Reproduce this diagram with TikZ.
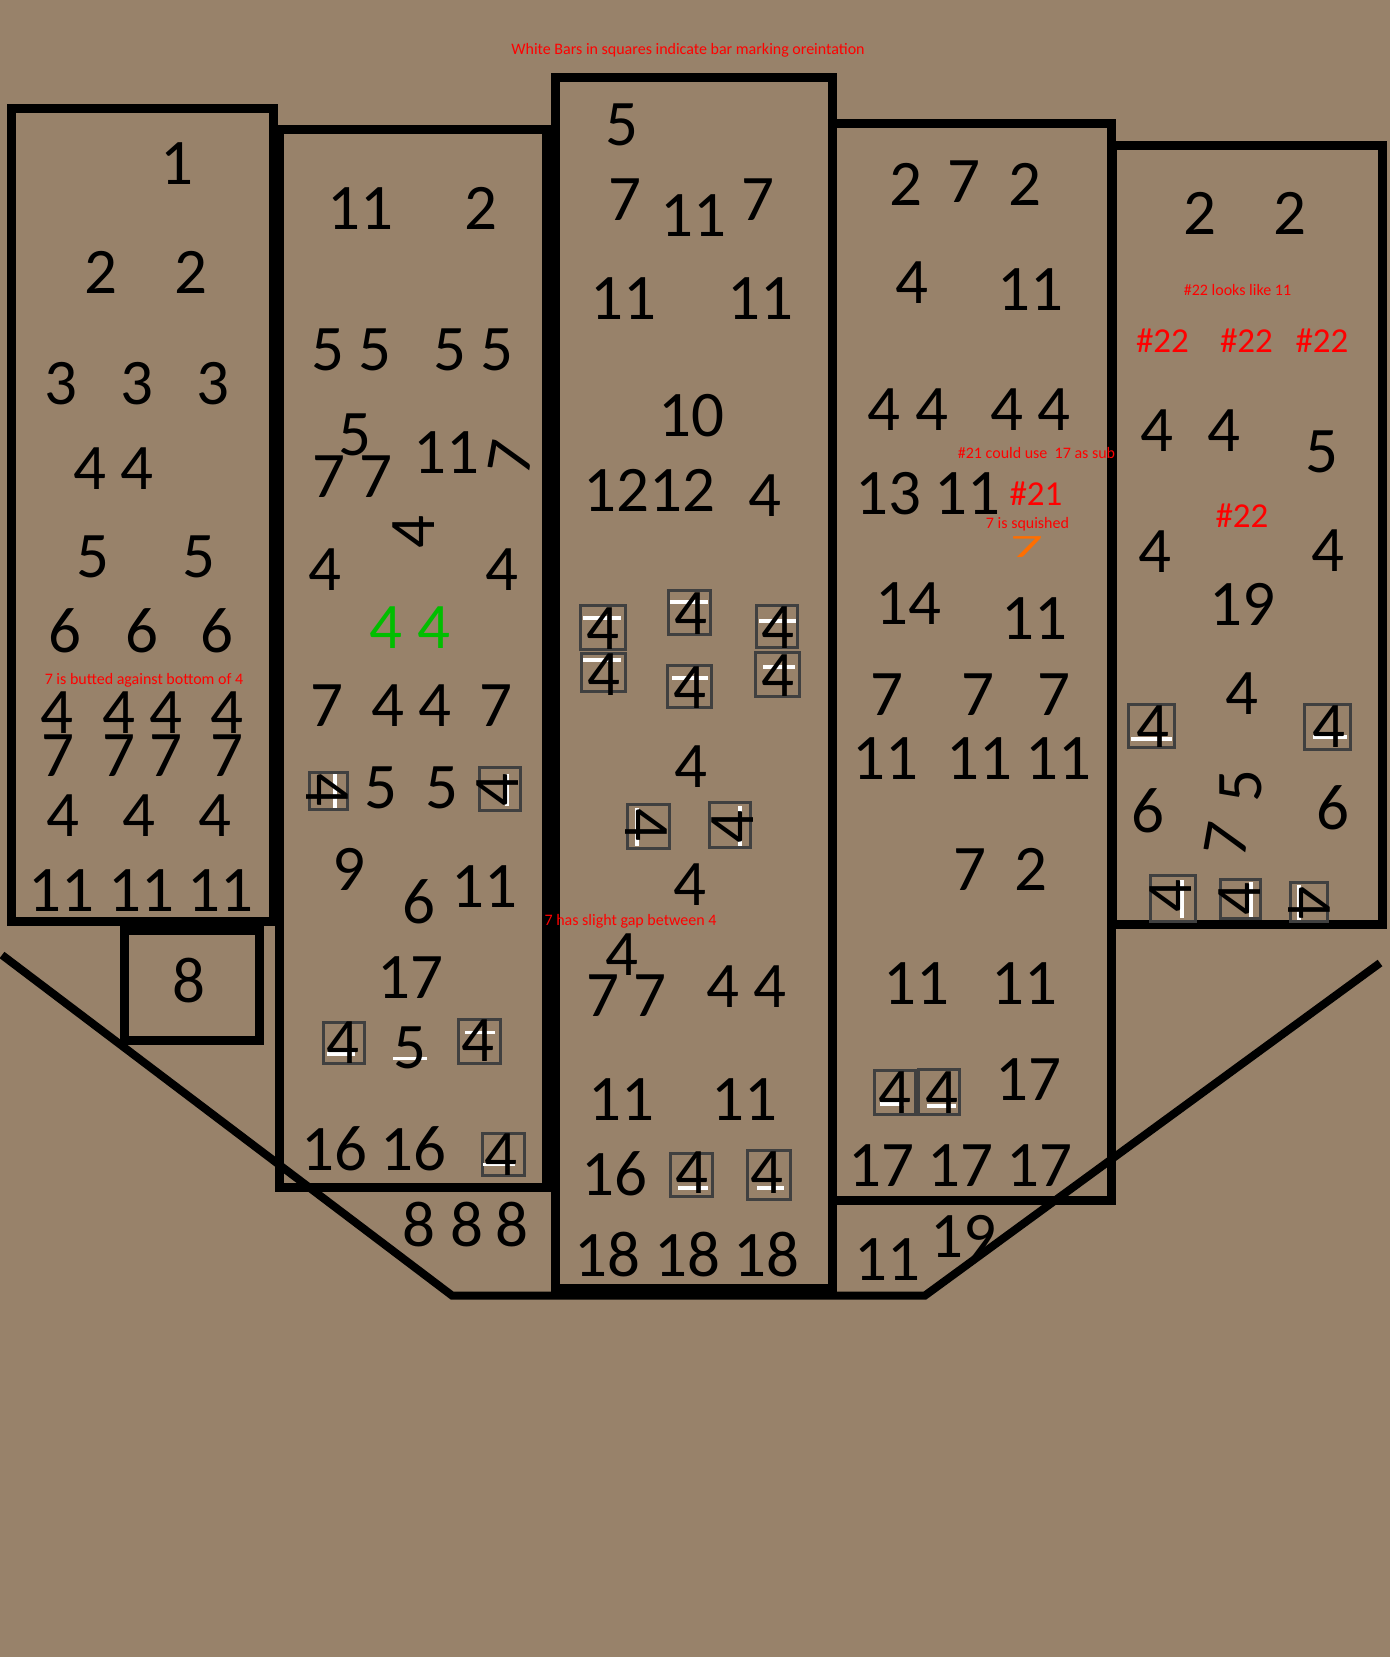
\documentclass[tikz,border=0pt]{standalone}
\usepackage{fontspec}
\setmainfont{Carlito}
\usepackage{graphicx}
\definecolor{bgc}{RGB}{152,130,106}
\definecolor{boxgray}{RGB}{64,64,64}
\definecolor{grn}{RGB}{0,190,0}
\definecolor{orng}{RGB}{255,110,0}
\begin{document}
\begin{tikzpicture}[x=1pt,y=-1pt,
 num/.style={font=\fontsize{65}{70}\selectfont, inner sep=0pt, anchor=base},
 rnum/.style={font=\fontsize{65}{70}\selectfont, inner sep=0pt, anchor=center},
 note/.style={font=\fontsize{16}{19}\selectfont, text=red, inner sep=0pt, anchor=base},
 bignote/.style={font=\fontsize{35}{40}\selectfont, text=red, inner sep=0pt, anchor=base},
 frame/.style={draw=black, line width=9pt},
 edgeline/.style={draw=black, line width=8pt},
 bx/.style={draw=boxgray, line width=3.3pt, inner sep=0pt},
 wbar/.style={draw=white, line width=3.3pt},
]
\fill[bgc] (0,0) rectangle (1390,1657);
\useasboundingbox (0,0) rectangle (1390,1657);

% frames
\draw[frame] (11.5,108.5) rectangle (273.5,921);
\draw[frame] (124.5,930) rectangle (259.5,1040);
\draw[frame] (279.5,129.5) rectangle (546,1187);
\draw[frame] (555.5,77.7) rectangle (832.3,1288);
\draw[frame] (832.3,123) rectangle (1111,1200);
\draw[frame] (1112,145.5) rectangle (1382.5,924);
\draw[frame] (832.3,1200) -- (832.3,1296);
\draw[edgeline] (2,955) -- (452,1295.5) -- (925,1295.5) -- (1380,963);

% top note
\node[note] (note0) at (688,54) {White Bars in squares indicate bar marking oreintation};

% column 1
\node[num] (c1a) at (176.5,184) {1};
\node[num] (c1b) at (100.5,293) {2};
\node[num] (c1c) at (191,293) {2};
\node[num] (c1d) at (61,404) {3};
\node[num] (c1e) at (137,404) {3};
\node[num] (c1f) at (212.5,404) {3};
\node[num] (c1g) at (90,489) {4};
\node[num] (c1h) at (137,489) {4};
\node[num] (c1i) at (93,577) {5};
\node[num] (c1j) at (198.5,577) {5};
\node[num] (c1k) at (65,652.7) {6};
\node[num] (c1l) at (141.5,652.7) {6};
\node[num] (c1m) at (217,652.7) {6};
\node[note] (note1) at (144,684) {7 is butted against bottom of 4};
\node[num] (c1n) at (57,733) {4};
\node[num] (c1o) at (118.5,733) {4};
\node[num] (c1p) at (165.5,733) {4};
\node[num] (c1q) at (226.5,733) {4};
\node[num] (c1r) at (58,776.7) {7};
\node[num] (c1s) at (119,776.7) {7};
\node[num] (c1t) at (166,776.7) {7};
\node[num] (c1u) at (226.5,776.7) {7};
\node[num] (c1v) at (63,836.7) {4};
\node[num] (c1w) at (139,836.7) {4};
\node[num] (c1x) at (214.5,836.7) {4};
\node[num] (c1y) at (61.7,911) {11};
\node[num] (c1z) at (141.7,911) {11};
\node[num] (c1aa) at (220.7,911) {11};
\node[num] (c1ab) at (189,1002.7) {8};

% column 2
\node[num] (c2a) at (360.5,229) {11};
\node[num] (c2b) at (481,229) {2};
\node[num] (c2c) at (327.5,370) {5};
\node[num] (c2d) at (375,370) {5};
\node[num] (c2e) at (450,370) {5};
\node[num] (c2f) at (497,370) {5};
\node[num] (c2g) at (355,455) {5};
\node[num] (c2h) at (329,497.7) {7};
\node[num] (c2i) at (376,497.7) {7};
\node[num] (c2j) at (446.5,473) {11};
\node[rnum, rotate=80] (c2k) at (511,458) {7};
\node[rnum, rotate=90] (c2l) at (414,532) {4};
\node[num] (c2m) at (325,590.7) {4};
\node[num] (c2n) at (501.5,590) {4};
\node[num, text=grn] (c2o) at (386,648.6) {4};
\node[num, text=grn] (c2p) at (433.5,648.6) {4};
\node[num] (c2q) at (327,726) {7};
\node[num] (c2r) at (388,726) {4};
\node[num] (c2s) at (435,726) {4};
\node[num] (c2t) at (496,726) {7};
\node[bx, minimum width=37.7pt, minimum height=36.7pt] (b2a) at (328.5,791) {};
\draw[wbar] (335,774) -- (335,808);
\node[rnum, rotate=-90] (b2ad) at (327,789.5) {4};
\node[num] (c2u) at (381,808) {5};
\node[num] (c2v) at (442,808) {5};
\node[bx, minimum width=40.7pt, minimum height=42.7pt] (b2b) at (500,789) {};
\draw[wbar] (507,774) -- (507,806);
\node[rnum, rotate=90] (b2bd) at (498,790) {4};
\node[num] (c2w) at (349,890) {9};
\node[num] (c2x) at (418.5,923) {6};
\node[num] (c2y) at (484,907.5) {11};
\node[num] (c2z) at (410.5,998.6) {17};
\node[bx, minimum width=40.7pt, minimum height=41.4pt] (b2c) at (344,1043) {};
\draw[wbar] (327,1054) -- (355,1054);
\node[num] (b2cd) at (342.5,1063) {4};
\draw[wbar] (393,1058.6) -- (427,1058.6);
\node[num] (c2aa) at (410,1068) {5};
\node[bx, minimum width=41.7pt, minimum height=43.7pt] (b2d) at (479.5,1041.5) {};
\draw[wbar] (465,1032.5) -- (495,1032.5);
\node[num] (b2dd) at (477.5,1061) {4};
\node[num] (c2ab) at (334,1170) {16};
\node[num] (c2ac) at (413.5,1170) {16};
\node[bx, minimum width=41.7pt, minimum height=41.7pt] (b2e) at (503.5,1154.5) {};
\draw[wbar] (483,1164.6) -- (515,1164.6);
\node[num] (b2ed) at (501,1175) {4};
\node[num] (c2ad) at (419,1246) {8};
\node[num] (c2ae) at (467,1246) {8};
\node[num] (c2af) at (512,1246) {8};

% column 3
\node[num] (c3a) at (621.5,145.7) {5};
\node[num] (c3b) at (624.5,220) {7};
\node[num] (c3c) at (693,236.7) {11};
\node[num] (c3d) at (758,220) {7};
\node[num] (c3e) at (623,319) {11};
\node[num] (c3f) at (760,319) {11};
\node[num] (c3g) at (691,436.7) {10};
\node[num] (c3h) at (649.5,511.5) {1212};
\node[num] (c3i) at (765,516) {4};
\node[bx, minimum width=44.7pt, minimum height=43.7pt] (bA) at (603,627.5) {};
\draw[wbar] (583,618) -- (621,618);
\node[num] (bAd) at (603,649) {4};
\node[bx, minimum width=43.7pt, minimum height=37.7pt] (bB) at (603.5,672.5) {};
\draw[wbar] (583,660) -- (621,660);
\node[num] (bBd) at (604,695) {4};
\node[bx, minimum width=41.7pt, minimum height=43.7pt] (bC) at (689.5,612.5) {};
\draw[wbar] (670,602) -- (708,602);
\node[num] (bCd) at (691,634) {4};
\node[bx, minimum width=43.7pt, minimum height=41.7pt] (bD) at (689.5,686.5) {};
\draw[wbar] (672,678) -- (708,678);
\node[num] (bDd) at (690,708) {4};
\node[bx, minimum width=40.7pt, minimum height=41.7pt] (bE) at (777,626.5) {};
\draw[wbar] (759,621) -- (796,621);
\node[num] (bEd) at (778,648) {4};
\node[bx, minimum width=43.7pt, minimum height=43.7pt] (bF) at (777.5,674.5) {};
\draw[wbar] (763,667) -- (795,667);
\node[num] (bFd) at (778,696) {4};
\node[num] (c3j) at (691,787) {4};
\node[bx, minimum width=41.7pt, minimum height=43.7pt] (bG) at (648.5,826.5) {};
\draw[wbar] (637,808) -- (637,846);
\node[rnum, rotate=-90] (bGd) at (646.5,825) {4};
\node[bx, minimum width=40.7pt, minimum height=44.7pt] (bH) at (730,825) {};
\draw[wbar] (740,806) -- (740,846);
\node[rnum, rotate=90] (bHd) at (733,827) {4};
\node[num] (c3k) at (690,905) {4};
\node[note] (note2) at (630.5,925) {7 has slight gap between 4};
\node[num] (c3l) at (622,975) {4};
\node[num] (c3m) at (602.5,1016.7) {7};
\node[num] (c3n) at (650,1016.7) {7};
\node[num] (c3o) at (722.5,1007) {4};
\node[num] (c3p) at (769.5,1007) {4};
\node[num] (c3q) at (621,1120) {11};
\node[num] (c3r) at (744,1120) {11};
\node[num] (c3s) at (614.5,1195) {16};
\node[bx, minimum width=41.7pt, minimum height=42.7pt] (bI) at (691.5,1175) {};
\draw[wbar] (678,1188) -- (708,1188);
\node[num] (bId) at (691.5,1193) {4};
\node[bx, minimum width=42.7pt, minimum height=48.7pt] (bJ) at (769,1175) {};
\draw[wbar] (757,1188) -- (784,1188);
\node[num] (bJd) at (766.5,1193) {4};
\node[num] (c3t) at (607.5,1276) {18};
\node[num] (c3u) at (687,1276) {18};
\node[num] (c3v) at (766,1276) {18};

% column 4
\node[num] (c4a) at (906,205.7) {2};
\node[num] (c4b) at (963.5,202.3) {7};
\node[num] (c4c) at (1025,205.7) {2};
\node[num] (c4d) at (912,303) {4};
\node[num] (c4e) at (1030,310) {11};
\node[num] (c4f) at (883.5,430) {4};
\node[num] (c4g) at (931.5,430) {4};
\node[num] (c4h) at (1006.5,430) {4};
\node[num] (c4i) at (1053.5,430) {4};
\node[note] (note3) at (1036.5,458) {\#21 could use\ \ 17 as sub};
\node[num] (c4j) at (888,514) {13};
\node[num] (c4k) at (967.5,514) {11};
\node[bignote] (c4l) at (1036,505) {\#21};
\node[note] (note4) at (1027.5,528) {7 is squished};
\node[num, text=orng] (c4m) at (1026.5,557) {\scalebox{1}[0.5]{7}};
\node[num] (c4n) at (908,624) {14};
\node[num] (c4o) at (1034,639) {11};
\node[num] (c4p) at (887,715) {7};
\node[num] (c4q) at (977.5,715) {7};
\node[num] (c4r) at (1053.5,715) {7};
\node[num] (c4s) at (885,779) {11};
\node[num] (c4t) at (979,779) {11};
\node[num] (c4u) at (1058.5,779) {11};
\node[num] (c4v) at (969.5,890) {7};
\node[num] (c4w) at (1030.5,890) {2};
\node[num] (c4x) at (916,1004) {11};
\node[num] (c4y) at (1024,1004) {11};
\node[num] (c4z) at (1028,1100.5) {17};
\node[bx, minimum width=40.7pt, minimum height=43.7pt] (bK) at (895,1092.5) {};
\draw[wbar] (880,1104) -- (904,1104);
\node[num] (bKd) at (895,1113.7) {4};
\node[bx, minimum width=40.7pt, minimum height=44.7pt] (bL) at (939,1092) {};
\draw[wbar] (927,1106) -- (956,1106);
\node[num] (bLd) at (941.5,1113.7) {4};
\node[num] (c4aa) at (881.5,1186) {17};
\node[num] (c4ab) at (960.5,1186) {17};
\node[num] (c4ac) at (1039.5,1186) {17};
\node[num] (c4ad) at (887.5,1280) {11};
\node[num] (c4ae) at (963,1257) {19};

% column 5
\node[num] (c5a) at (1200,234) {2};
\node[num] (c5b) at (1290,234) {2};
\node[note] (note5) at (1237.5,295.7) {\#22 looks like 11};
\node[bignote] (c5c) at (1162.5,352.7) {\#22};
\node[bignote] (c5d) at (1246.5,352.7) {\#22};
\node[bignote] (c5e) at (1322,352.7) {\#22};
\node[num] (c5f) at (1156.5,451.7) {4};
\node[num] (c5g) at (1223.5,451.7) {4};
\node[num] (c5h) at (1321.5,472) {5};
\node[bignote] (c5i) at (1242,527.7) {\#22};
\node[num] (c5j) at (1155,572) {4};
\node[num] (c5k) at (1327.5,571) {4};
\node[num] (c5l) at (1242.5,625) {19};
\node[num] (c5m) at (1241.5,714) {4};
\node[bx, minimum width=45.7pt, minimum height=42.7pt] (bM) at (1151.5,726) {};
\draw[wbar] (1131,739) -- (1172,739);
\node[num] (bMd) at (1152.5,747) {4};
\node[bx, minimum width=45.7pt, minimum height=44.7pt] (bN) at (1327.5,727) {};
\draw[wbar] (1313,737) -- (1347,737);
\node[num] (bNd) at (1328.5,747) {4};
\node[rnum, rotate=90] (c5n) at (1241,786.5) {5};
\node[num] (c5o) at (1148,832) {6};
\node[num] (c5p) at (1333,829) {6};
\node[rnum, rotate=80] (c5q) at (1226.5,839.5) {7};
\node[bx, minimum width=44.7pt, minimum height=45.7pt] (bO) at (1173,898.5) {};
\draw[wbar] (1182,880) -- (1182,918);
\node[rnum, rotate=90] (bOd) at (1171,896) {4};
\node[bx, minimum width=39.7pt, minimum height=38.7pt] (bP) at (1240.5,899) {};
\draw[wbar] (1251,882) -- (1251,917);
\node[rnum, rotate=90] (bPd) at (1240,899) {4};
\node[bx, minimum width=36.7pt, minimum height=38.7pt] (bQ) at (1309,902) {};
\draw[wbar] (1299,885) -- (1299,920);
\node[rnum, rotate=-90] (bQd) at (1309,903) {4};
\end{tikzpicture}
\end{document}
